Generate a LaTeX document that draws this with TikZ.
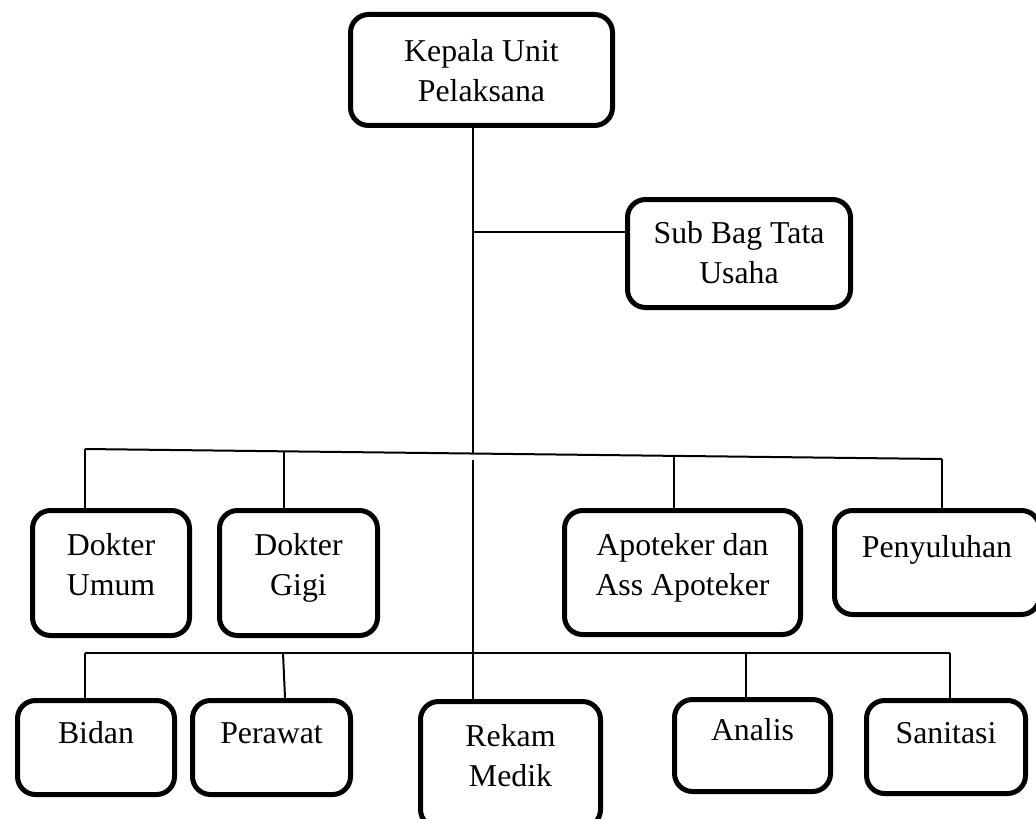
\documentclass[tikz,border=0pt]{standalone}
\usepackage{fontspec}
\setmainfont{Liberation Serif}
\newcommand\boxt[4]{\parbox[c][#2][t]{#1}{\centering\rule{0pt}{#3}#4}}
\begin{document}
\begin{tikzpicture}[x=0.5pt,y=-0.5pt,
  box/.style={draw, line width=2.5pt, rounded corners=9pt, inner sep=0pt,
    font=\fontsize{15.9}{20}\selectfont},
  conn/.style={line width=1pt}]
\useasboundingbox (0,0) rectangle (1036,818);
% boxes
\node[box] (kepala) at (481.5,70) {\boxt{131pt}{55.5pt}{23.75pt}{Kepala Unit\\Pelaksana}};
\node[box] (subbag) at (739,253.5) {\boxt{111.5pt}{54pt}{21.75pt}{Sub Bag Tata\\Usaha}};
\node[box] (umum) at (111,573) {\boxt{78.5pt}{62.5pt}{22.25pt}{Dokter\\Umum}};
\node[box] (gigi) at (298.5,573) {\boxt{79pt}{62.5pt}{22.25pt}{Dokter\\Gigi}};
\node[box] (apot) at (682.5,572.5) {\boxt{118pt}{62pt}{22.25pt}{Apoteker dan\\Ass Apoteker}};
\node[box] (peny) at (937,562.5) {\boxt{102.5pt}{52pt}{23.25pt}{Penyuluhan}};
\node[box] (bidan) at (96,747.5) {\boxt{78.5pt}{47pt}{21.25pt}{Bidan}};
\node[box] (perawat) at (271.5,747.5) {\boxt{79pt}{47pt}{21.25pt}{Perawat}};
\node[box] (rekam) at (510.5,764.5) {\boxt{90pt}{63pt}{22.25pt}{Rekam\\Medik}};
\node[box] (analis) at (752.5,745.5) {\boxt{78pt}{46pt}{20.25pt}{Analis}};
\node[box] (sanit) at (946,747) {\boxt{79.5pt}{46.5pt}{21.25pt}{Sanitasi}};
% junction coordinates
\coordinate (j1) at (473,232);
\coordinate (hl) at (85,449);
\coordinate (hc) at (473,453.5);
\coordinate (hg) at (284,451.3);
\coordinate (ha) at (674,455.9);
\coordinate (hr) at (942,459);
\coordinate (rtop) at (473,460);
\coordinate (bl) at (85,653);
\coordinate (bp) at (283,653);
\coordinate (ba) at (746,653);
\coordinate (br) at (950,653);
% connectors
\draw[conn] (kepala.south -| hc) -- (hc);
\draw[conn] (j1) -- (j1 -| subbag.west);
\draw[conn] (hl) -- (hr);
\draw[conn] (hl) -- (hl |- umum.north);
\draw[conn] (hg) -- (hg |- gigi.north);
\draw[conn] (ha) -- (ha |- apot.north);
\draw[conn] (hr) -- (hr |- peny.north);
\draw[conn] (rtop) -- (rtop |- rekam.north);
\draw[conn] (bl) -- (br);
\draw[conn] (bl) -- (bl |- bidan.north);
\draw[conn] (bp) -- (285,0 |- perawat.north);
\draw[conn] (ba) -- (ba |- analis.north);
\draw[conn] (br) -- (br |- sanit.north);
\end{tikzpicture}
\end{document}
